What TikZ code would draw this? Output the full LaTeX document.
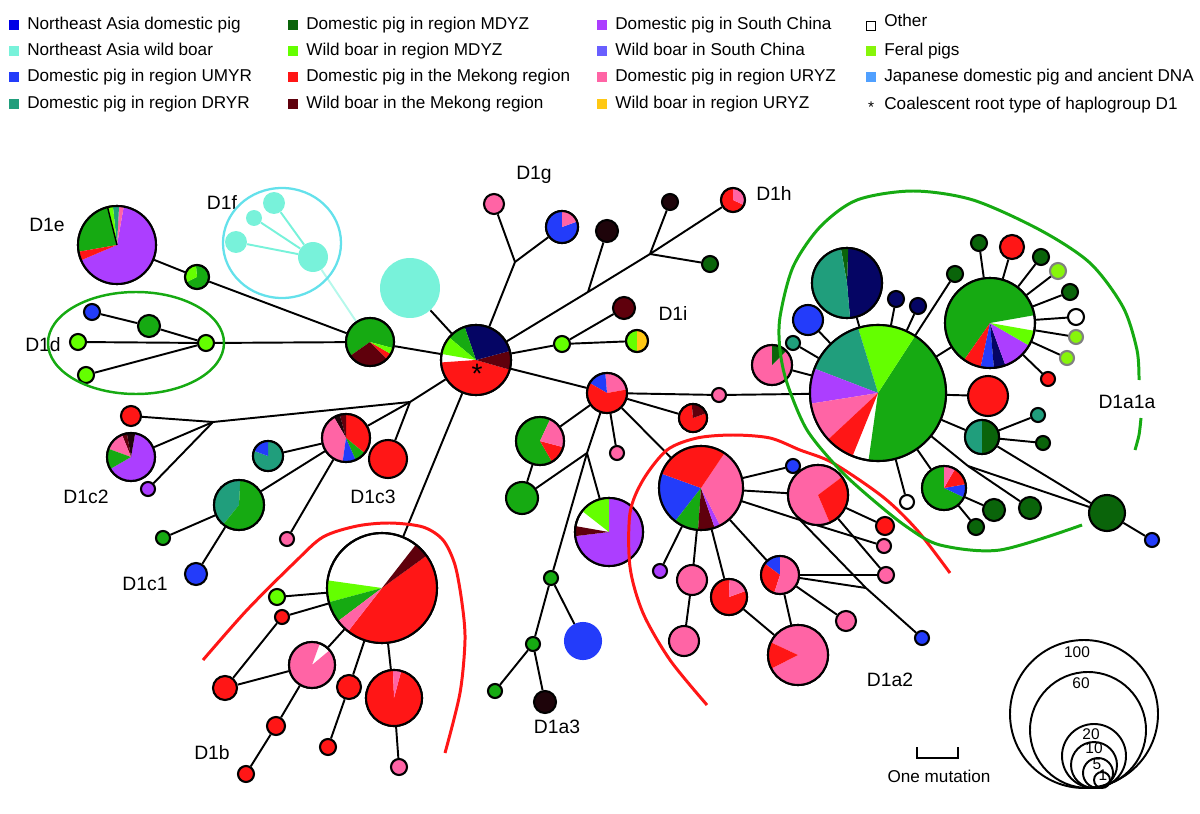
\documentclass[tikz,border=0pt]{standalone}
\usepackage{fontspec}
\setmainfont{Liberation Sans}
\usepackage{xcolor}
\usetikzlibrary{positioning}

\definecolor{cNEd}{RGB}{0,0,230}
\definecolor{cAqua}{RGB}{120,242,218}
\definecolor{cBlue}{RGB}{35,60,250}
\definecolor{cTeal}{RGB}{32,158,124}
\definecolor{cDGreen}{RGB}{10,100,10}
\definecolor{cGreen}{RGB}{22,170,18}
\definecolor{cLGreen}{RGB}{100,255,0}
\definecolor{cRed}{RGB}{255,22,22}
\definecolor{cMaroon}{RGB}{95,0,12}
\definecolor{cPurple}{RGB}{172,62,255}
\definecolor{cSlate}{RGB}{105,95,255}
\definecolor{cPink}{RGB}{255,100,165}
\definecolor{cGold}{RGB}{255,200,20}
\definecolor{cFeral}{RGB}{135,245,10}
\definecolor{cJap}{RGB}{80,160,255}
\definecolor{cNavy}{RGB}{5,5,100}
\definecolor{cBlk}{RGB}{30,4,10}
\definecolor{cRing}{RGB}{100,225,235}

%% pie slices drawn over a haplotype node: name, radius, colour/from/to
\newcommand{\hpie}[3]{%
  \foreach \pc/\pa/\pb in {#3}{%
    \fill[\pc] (#1.center) -- ++(-\pa:#2) arc[start angle=-\pa, end angle=-\pb, radius=#2] -- cycle;}%
  \draw[line width=1.2pt] (#1.center) circle[radius=#2];}

\begin{document}
\begin{tikzpicture}[x=0.02cm, y=-0.02cm,
  hap/.style={circle, draw=black, line width=1.2pt, inner sep=0pt, minimum size=#1*0.04cm},
  aqn/.style={circle, draw=none, fill=cAqua, inner sep=0pt, minimum size=#1*0.04cm},
  edge/.style={line width=1.1pt, black},
  lab/.style={font=\fontsize{11}{13}\selectfont, inner sep=0pt},
  lgtx/.style={font=\fontsize{9.75}{11}\selectfont, anchor=base west, inner sep=0pt},
  lgsq/.style={rectangle, inner sep=0pt, minimum size=0.2cm},
  sctx/.style={font=\fontsize{8.8}{10}\selectfont, inner sep=0pt},
  hull/.style={line width=1.7pt}
]
\useasboundingbox (0,0) rectangle (1200,814);

%% Legend
\foreach \n/\x/\y/\c/\t in {
  1/27/24/cNEd/Northeast Asia domestic pig,
  2/27/50/cAqua/Northeast Asia wild boar,
  3/27/76/cBlue/Domestic pig in region UMYR,
  4/27/103/cTeal/Domestic pig in region DRYR,
  5/306/24/cDGreen/Domestic pig in region MDYZ,
  6/306/50/cLGreen/Wild boar in region MDYZ,
  7/306/76/cRed/Domestic pig in the Mekong region,
  8/306/103/cMaroon/Wild boar in the Mekong region,
  9/615/24/cPurple/Domestic pig in South China,
  10/615/50/cSlate/Wild boar in South China,
  11/615/76/cPink/Domestic pig in region URYZ,
  12/615/103/cGold/Wild boar in region URYZ,
  14/884/50/cFeral/Feral pigs,
  15/884/76/cJap/Japanese domestic pig and ancient DNA}{
  \node[lgsq, fill=\c] (sq\n) at (\x-13,\y+1) {};
  \node[lgtx] (lt\n) at (\x,\y+6) {\t};}
\node[lgsq, draw=black, line width=1pt, fill=white, minimum size=0.18cm] (sq13) at (871,26) {};
\node[lgtx] (lt13) at (884,27) {Other};
\node[sctx] (sq16) at (871,107) {*};
\node[lgtx] (lt16) at (884,110) {Coalescent root type of haplogroup D1};

%% Haplotypes, left part
\foreach \n/\x/\y/\r/\c in {e1/117/245/39/white, e2/197/277/12/white, n1/370/342/24/white,
  d0/206/343/8/cLGreen, d1/92/312/8/cBlue, d2/149/326/11/cGreen, d3/78/342/8/cLGreen, d4/86/375/8/cLGreen}
  \node[hap=\r, fill=\c] (\n) at (\x,\y) {};
\foreach \n/\x/\y/\r in {f0/313/257/15, f1/274/203/11, f2/254/218/8, f3/236/242/11, aq/410/288/30}
  \node[aqn=\r] (\n) at (\x,\y) {};

%% Root and upper branches
\foreach \n/\x/\y/\r/\c in {H0/476/360/35/white, g1/494/204/10/cPink, g2/562/227/16/white,
  k1/607/231/11/cBlk, k2/670/202/8/cBlk, k3/710/264/8/cDGreen, hh/733/200/12/white,
  i0/562/344/8/cLGreen, i1/624/308/11/cMaroon, i2/637/341/11/white}
  \node[hap=\r, fill=\c] (\n) at (\x,\y) {};

%% D1c
\foreach \n/\x/\y/\r/\c in {c3/346/438/24/white, c3r/388/459/19/cRed, c2r/131/416/10/cRed,
  c2/131/457/24/white, c2p/148/489/7/cPurple, ct/268/456/15/white, c1/239/505/25/white,
  cp/287/539/7/cPink, c1g/163/538/7/cGreen, c1b/196/574/11/cBlue}
  \node[hap=\r, fill=\c] (\n) at (\x,\y) {};

%% D1b
\foreach \n/\x/\y/\r/\c in {b0/382/588/55/white, b1/277/597/8/cLGreen, b2/282/617/7/cRed,
  b3/312/665/23/white, b4/349/687/12/cRed, b5/394/698/28/white, b6/225/688/12/cRed,
  b7/276/726/9/cRed, b8/246/774/8/cRed, b9/328/747/8/cRed, b10/399/767/8/cPink}
  \node[hap=\r, fill=\c] (\n) at (\x,\y) {};

%% D1a3 and middle
\foreach \n/\x/\y/\r/\c in {u0/607/393/20/white, u1/719/395/7/cPink, u2/693/418/14/white,
  u3/617/453/7/cPink, u4/540/441/24/white, u5/522/498/16/cGreen, u6/609/532/34/white,
  u7/551/578/7/cGreen, u8/533/644/7/cGreen, u10/495/691/7/cGreen, u11/545/702/11/cBlk}
  \node[hap=\r, fill=\c] (\n) at (\x,\y) {};
\node[hap=18, fill=cBlue, draw=cBlue] (u9) at (583,641) {};

%% D1a2
\foreach \n/\x/\y/\r/\c in {a0/701/488/42/white, a1/793/466/7/cBlue, a2/818/495/30/white,
  a3/885/526/9/cRed, a4/884/546/7/cPink, a5/886/575/8/cPink, a6/780/575/19/white,
  a7/846/621/10/cPink, a8/798/655/30/white, a9/922/638/7/cBlue, a10/660/571/7/cPurple,
  a11/692/580/15/cPink, a12/684/641/15/cPink, a13/729/597/18/white}
  \node[hap=\r, fill=\c] (\n) at (\x,\y) {};

%% D1a1a
\foreach \n/\x/\y/\r/\c in {H1/878/393/68/white, r1/772/365/20/white, r2/793/343/7/cTeal,
  r3/808/320/15/cBlue, r4/847/283/35/white, r5/896/299/8/cNavy, r6/918/306/8/cNavy,
  r7/955/274/8/cDGreen, G2/990/323/45/white, s1/979/243/8/cDGreen, s2/1012/247/12/cRed,
  s3/1041/257/8/cDGreen, s5/1070/292/8/cDGreen, s6/1076/317/8/white, s9/1048/379/7/cRed,
  r8/988/396/20/cRed, r9/982/437/17/white, r10/1038/415/7/cTeal, r11/1043/443/7/cDGreen,
  r12/1107/513/18/cDGreen, r13/1152/540/7/cBlue, r14/1030/508/11/cDGreen, r15/944/488/22/white,
  r16/907/502/7/white, r17/994/510/11/cDGreen, r18/976/527/8/cDGreen}
  \node[hap=\r, fill=\c] (\n) at (\x,\y) {};
\foreach \n/\x/\y/\r in {s4/1058/271/8, s7/1076/337/7, s8/1067/358/7}
  \node[hap=\r, fill=cFeral, draw=gray] (\n) at (\x,\y) {};

%% Median vectors
\coordinate (bg) at (515,262);
\coordinate (bh1) at (588,292);
\coordinate (bh2) at (650,254);
\coordinate (bc) at (410,402);
\coordinate (bc2) at (213,422);
\coordinate (bu) at (587,453);
\coordinate (bd) at (800,520);
\coordinate (be) at (866,588);
\coordinate (bx) at (968,466);

%% Connectors
\foreach \a/\b in {e1/e2, e2/n1, d1/d2, d2/d0, d3/d0, d4/d0, d0/n1, n1/H0, aq/H0,
  H0/bg, bg/g1, bg/g2, H0/bh1, bh1/bh2, bh2/hh, bh1/k1, bh2/k2, bh2/k3,
  H0/i0, i0/i1, i0/i2, H0/u0, H0/bc, bc/c3, bc/c3r, bc/bc2, bc2/c2r, bc2/c2, bc2/c2p,
  c3/ct, c3/c1, c3/cp, c1/c1g, c1/c1b,
  H0/b0, b0/b1, b0/b2, b0/b3, b0/b4, b0/b5, b2/b6, b3/b6, b3/b7, b7/b8, b4/b9, b5/b10,
  u0/u1, u1/H1, u0/u2, u0/u3, u0/u4, u4/u5, u0/bu, bu/u5, bu/u6, bu/u7, u7/u8, u7/u9,
  u8/u10, u8/u11, u0/a0,
  a0/a1, a0/a2, a2/a3, a2/a5, a0/bd, bd/a4, bd/be, be/a9, a6/be, a0/a6, a6/a5, a6/a7,
  a6/a8, a0/a10, a0/a11, a11/a12, a0/a13, a13/a8,
  H1/r1, H1/r2, H1/r3, H1/r4, H1/r5, H1/r6, H1/r7, H1/G2,
  G2/s1, G2/s2, G2/s3, G2/s4, G2/s5, G2/s6, G2/s7, G2/s8, G2/s9,
  H1/r8, H1/r9, r9/r10, r9/r11, r9/r12, r12/r13, H1/bx, bx/r14, bx/r12,
  H1/r15, r15/r17, r15/r18, H1/r16}
  \draw[edge] (\a) -- (\b);
\foreach \b in {f1, f2, f3}
  \draw[line width=1.1pt, cAqua] (f0) -- (\b);
\draw[line width=1.1pt, cAqua!55] (f0) -- (n1);

%% Pie charts
\hpie{e1}{39}{cPurple/203/440, cPink/80/87, cTeal/87/96, cLGreen/96/104, cGreen/104/190, cRed/190/203}
\draw[line width=0.8pt] (e1.center) -- ++(-104:39);
\hpie{e2}{12}{cGreen/206/455, cLGreen/95/206}
\hpie{n1}{24}{cGreen/345/575, cMaroon/215/315, cRed/315/330, cLGreen/330/345}
\hpie{H0}{35}{cRed/184/344, cMaroon/344/375, cNavy/15/109, cGreen/109/140, cLGreen/140/170}
\hpie{g2}{16}{cBlue/90/380, cPink/20/90}
\hpie{hh}{12}{cRed/90/335, cPink/335/450}
\hpie{i2}{11}{cLGreen/90/270, cGold/270/450}
\hpie{u0}{20}{cPink/10/95, cBlue/95/150, cRed/150/370}
\hpie{u2}{14}{cRed/95/380, cMaroon/20/95}
\hpie{u4}{24}{cGreen/65/300, cRed/300/345, cPink/345/425}
\hpie{u6}{34}{cPurple/187/450, cLGreen/90/142, cMaroon/170/187}
\hpie{c3}{24}{cRed/321/450, cMaroon/90/105, cBlk/105/120, cPink/120/262, cBlue/262/294, cGreen/294/321}
\hpie{ct}{15}{cTeal/160/450, cBlue/90/160}
\hpie{c1}{25}{cTeal/87/231, cGreen/231/447}
\hpie{c2}{24}{cPurple/210/440, cBlk/80/100, cMaroon/100/112, cPink/112/160, cGreen/160/210}
\hpie{b0}{55}{cRed/232/396, cMaroon/36/52, cLGreen/172/195, cGreen/195/217, cPink/217/232}
\hpie{b3}{23}{cPink/70/400}
\hpie{b5}{28}{cRed/92/435, cPink/75/92}
\hpie{a0}{42}{cBlue/160/232, cGreen/232/266, cMaroon/266/289, cPurple/289/297, cPink/297/416, cRed/56/160}
\hpie{a2}{30}{cPink/37/293, cRed/293/397}
\hpie{a6}{19}{cBlue/90/143, cRed/143/252, cPink/252/450}
\hpie{a8}{30}{cPink/207/515, cRed/155/207}
\hpie{a13}{18}{cRed/88/380, cPink/20/88}
\hpie{H1}{68}{cGreen/262/417, cLGreen/57/107, cTeal/107/159, cPurple/159/189, cPink/189/223, cRed/223/248}
\hpie{r1}{20}{cPink/90/405, cDGreen/45/90}
\hpie{r4}{35}{cNavy/275/448, cDGreen/88/100, cTeal/100/275}
\hpie{G2}{45}{cGreen/10/235, cRed/235/258, cBlue/258/275, cNavy/275/290, cPurple/290/330, cLGreen/330/350}
\hpie{r9}{17}{cTeal/90/270, cDGreen/270/450}
\hpie{r15}{22}{cGreen/90/335, cBlue/335/370, cRed/10/60, cPink/60/90}
\node[font=\fontsize{16}{16}\selectfont, inner sep=0pt] (root) at (477,374) {*};

%% Haplogroup labels
\node[lab] (lD1e) at (47,225) {D1e};
\node[lab] (lD1f) at (222,203) {D1f};
\node[lab] (lD1d) at (43,345) {D1d};
\node[lab] (lD1g) at (534,175) {D1g};
\node[lab] (lD1h) at (774,193) {D1h};
\node[lab] (lD1i) at (673,313) {D1i};
\node[lab] (lD1c2) at (86,497) {D1c2};
\node[lab] (lD1c3) at (373,497) {D1c3};
\node[lab] (lD1c1) at (145,584) {D1c1};
\node[lab] (lD1b) at (212,753) {D1b};
\node[lab] (lD1a3) at (557,727) {D1a3};
\node[lab] (lD1a2) at (890,680) {D1a2};
\node[lab] (lD1a1a) at (1127,402) {D1a1a};

%% Hulls
\draw[line width=1.4pt, cGreen] (136,343) ellipse[x radius=88, y radius=51];
\draw[line width=1.3pt, cRing] (282,243) ellipse[x radius=59, y radius=55];
\draw[hull, cRed] plot[smooth] coordinates {(203,660) (247,610) (295,562) (323,537) (357,526)
  (390,523) (423,527) (443,540) (455,565) (462,603) (465,640) (460,693) (445,753)};
\draw[hull, cRed] plot[smooth] coordinates {(707,705) (670,660) (643,613) (630,567) (630,513)
  (643,480) (667,450) (697,438) (733,435) (770,438) (800,450) (833,463) (883,497) (917,530) (950,573)};
\draw[hull, cGreen] plot[smooth] coordinates {(1082,525) (1000,550) (940,545) (907,527) (873,500)
  (840,470) (807,430) (787,383) (780,350) (780,317) (793,267) (820,227) (857,200) (913,191)
  (973,200) (1040,230) (1090,263) (1123,307) (1137,350) (1139,380)};
\draw[hull, cGreen] plot[smooth] coordinates {(1141,418) (1139,435) (1135,450)};

%% Size key and scale bar
\foreach \cx/\cy/\r in {1084/714/74, 1088/730/58, 1094/756/32, 1094/765/23, 1098/773/15, 1102/780/8}
  \draw[line width=1.1pt] (\cx,\cy) circle[radius=\r];
\node[sctx] (k100) at (1077,652) {100};
\node[sctx] (k60) at (1081,683) {60};
\node[sctx] (k20) at (1091,734) {20};
\node[sctx] (k10) at (1094,748) {10};
\node[sctx] (k5) at (1097,764) {5};
\node[sctx] (k1) at (1103,775) {1};
\draw[line width=1.4pt] (917,747) |- (958,758) -- (958,747);
\node[font=\fontsize{9.75}{11}\selectfont, inner sep=0pt] (onemut) at (939,776) {One mutation};
\end{tikzpicture}
\end{document}
